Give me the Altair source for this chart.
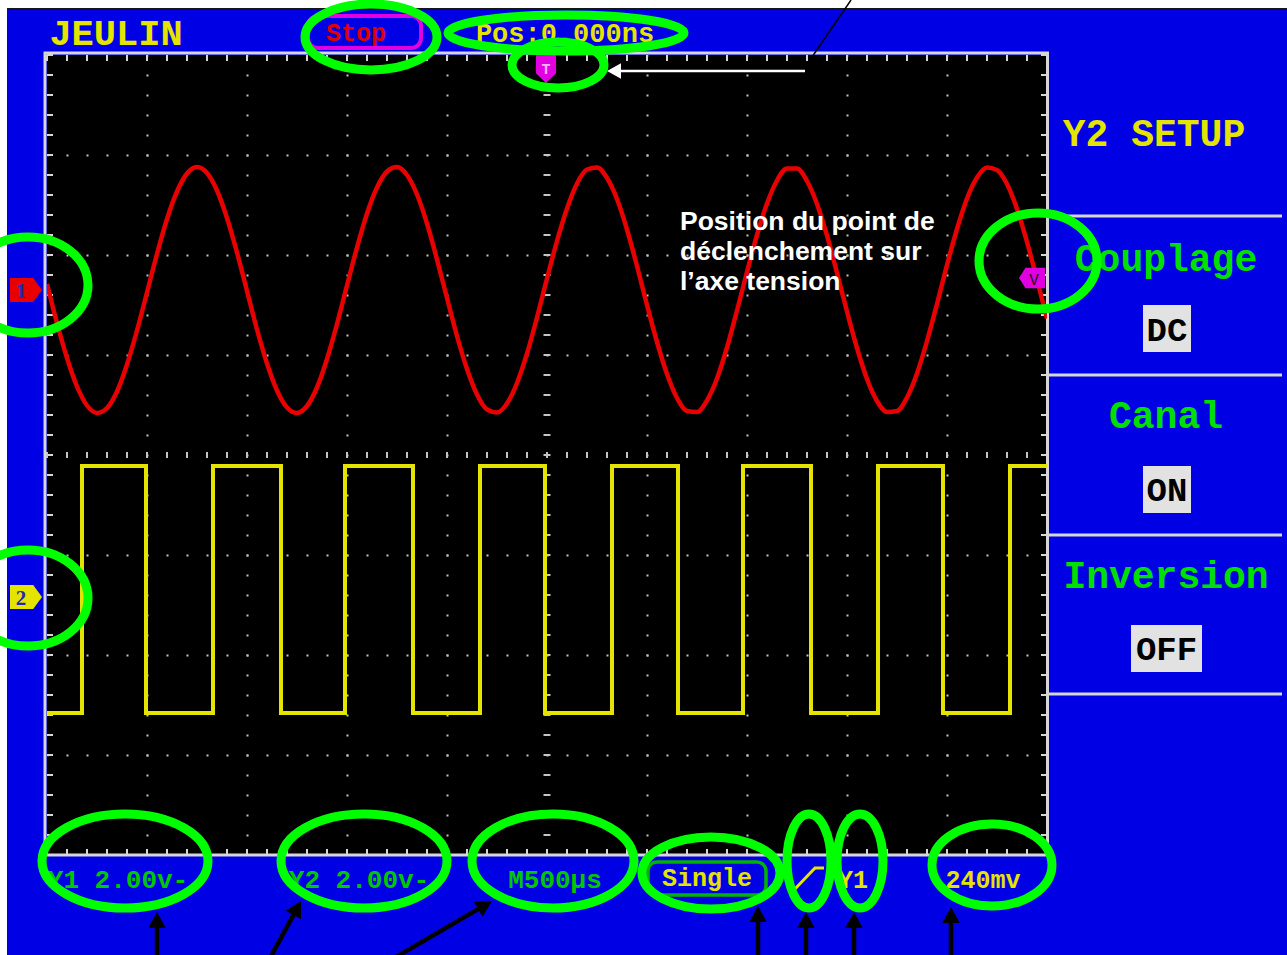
import math
import altair as alt
import pandas as pd

# ---------------------------------------------------------------------------
# Capture settings
# ---------------------------------------------------------------------------
TIME_RANGE = [-2500, 2500]     # µs : 10 divisions of 500 µs (M 500µs)
DIV_RANGE = [-4, 4]            # 8 vertical divisions
VOLTS_PER_DIV = 2.0            # Y1 2.00v / Y2 2.00v
CH1_POSITION = 1.65            # CH1 ground marker, divisions above centre
CH2_POSITION = -1.42           # CH2 ground marker

# CH1 (sine): voltage sampled every 50 µs from -2500 µs
CH1_START = -2500
CH1_STEP = 50
ch1_volts = [
    0.12, -0.66, -1.36, -1.93, -2.31, -2.46, -2.36, -2.03, -1.49, -0.81,
    -0.05, 0.72, 1.42, 1.97, 2.33, 2.46, 2.34, 1.99, 1.44, 0.75,
    -0.02, -0.79, -1.47, -2.01, -2.35, -2.46, -2.32, -1.95, -1.38, -0.68,
    0.09, 0.85, 1.53, 2.05, 2.37, 2.46, 2.30, 1.91, 1.33, 0.61,
    -0.16, -0.92, -1.58, -2.09, -2.39, -2.45, -2.27, -1.86, -1.27, -0.55,
    0.23, 0.98, 1.63, 2.13, 2.41, 2.45, 2.24, 1.82, 1.21, 0.48,
    -0.30, -1.04, -1.68, -2.16, -2.42, -2.44, -2.21, -1.77, -1.15, -0.41,
    0.36, 1.10, 1.73, 2.19, 2.43, 2.43, 2.18, 1.72, 1.09, 0.34,
    -0.43, -1.16, -1.78, -2.22, -2.44, -2.42, -2.15, -1.67, -1.02, -0.28,
    0.50, 1.22, 1.83, 2.25, 2.45, 2.40, 2.12, 1.62, 0.96, 0.21,
    -0.57,
]

# CH2 (square): edge times in µs and the two levels in volts
ch2_rising = [-2325, -1670, -1010, -335, 325, 980, 1655, 2315]
ch2_falling = [-2005, -1330, -670, -10, 655, 1320, 1980]
CH2_HIGH = 2.62
CH2_LOW = -2.32

# Grid lines (divisions / µs) drawn as dotted lines
grid_times = [-2000, -1500, -1000, -500, 500, 1000, 1500, 2000]
grid_divs = [-3, -2, -1, 1, 2, 3]

# Screen texts
TITLE = "JEULIN"
RUN_STATE = "Stop"
TRIG_POS = "Pos:0.000ns"
MENU_TITLE = "Y2 SETUP"
menu_items = ["Couplage", "Canal", "Inversion"]
menu_values = ["DC", "ON", "OFF"]
ch1_scale_txt = "Y1 2.00v-"
ch2_scale_txt = "Y2 2.00v-"
time_scale_txt = "M500µs"
trig_mode_txt = "Single"
trig_src_txt = "Y1"
trig_level_txt = "240mv"
note_lines = ["Position du point de", "déclenchement sur", "l’axe tension"]

# ---------------------------------------------------------------------------
# Styling
# ---------------------------------------------------------------------------
BLUE = "#0000E4"
YELLOW = "#E4E400"
MENU_GREEN = "#00E000"
INFO_GREEN = "#00C800"
RED = "#E80000"
MAGENTA = "#E000E0"
FRAME = "#D6D6D6"
DOT = "#C4C4C4"
RING = "#00FF00"
MONO = "Liberation Mono"
SANS = "Liberation Sans"

VX0, VY0 = 47, 55          # page position of the screen's top-left corner
VIEW_W, VIEW_H = 1000, 800

one = pd.DataFrame({"k": [0]})
XS = alt.Scale(domain=TIME_RANGE, nice=False, zero=False)
YS = alt.Scale(domain=DIV_RANGE, nice=False, zero=False)
XAX = alt.Axis(values=grid_times, grid=True, gridColor=DOT, gridWidth=2,
               gridDash=[2, 18], gridDashOffset=1, labels=False, ticks=False,
               domain=False)
YAX = alt.Axis(values=grid_divs, grid=True, gridColor=DOT, gridWidth=2,
               gridDash=[2, 18], gridDashOffset=1, labels=False, ticks=False,
               domain=False)


def xq(field):
    return alt.X(f"{field}:Q", scale=XS, axis=XAX, title="")


def yq(field):
    return alt.Y(f"{field}:Q", scale=YS, axis=YAX, title="")


def px(x):
    return alt.value(x - VX0)


def py(y):
    return alt.value(y - VY0)


def text(s, x, y, size, color, font=MONO, weight="bold", align="center"):
    return alt.Chart(one).mark_text(
        text=s, font=font, fontSize=size, fontWeight=weight, color=color,
        align=align, baseline="alphabetic"
    ).encode(x=px(x), y=py(y))


def box(x1, y1, x2, y2, fill=None, stroke=None, sw=0, r=0):
    kw = dict(cornerRadius=r)
    if fill is not None:
        kw["fill"] = fill
    else:
        kw["fill"] = "black"
        kw["fillOpacity"] = 0
    if stroke is not None:
        kw["stroke"] = stroke
        kw["strokeWidth"] = sw
    return alt.Chart(one).mark_rect(**kw).encode(
        x=px(x1), x2=px(x2), y=py(y1), y2=py(y2))


def seg(x1, y1, x2, y2, color, w):
    return alt.Chart(one).mark_rule(color=color, strokeWidth=w).encode(
        x=px(x1), y=py(y1), x2=px(x2), y2=py(y2))


def symbol(path, x, y, size, color, filled=True, sw=1, angle=0):
    return alt.Chart(one).mark_point(
        shape=path, size=size, filled=filled, color=color, opacity=1,
        strokeWidth=sw, angle=angle
    ).encode(x=px(x), y=py(y))


def ring(cx, cy, rx, ry, sw=9):
    m = max(rx, ry)
    a, b, k = rx / m, ry / m, 0.5523
    p = (f"M {a:.4f} 0 C {a:.4f} {k*b:.4f} {k*a:.4f} {b:.4f} 0 {b:.4f} "
         f"C {-k*a:.4f} {b:.4f} {-a:.4f} {k*b:.4f} {-a:.4f} 0 "
         f"C {-a:.4f} {-k*b:.4f} {-k*a:.4f} {-b:.4f} 0 {-b:.4f} "
         f"C {k*a:.4f} {-b:.4f} {a:.4f} {-k*b:.4f} {a:.4f} 0 Z")
    return symbol(p, cx, cy, (2 * m) ** 2, RING, filled=False, sw=sw)


HEAD = "M 0 0 L 0.55 1 L -0.55 1 Z"


def arrow(x1, y1, x2, y2, color, w, head):
    dx, dy = x2 - x1, y2 - y1
    n = math.hypot(dx, dy)
    ang = math.degrees(math.atan2(dx, -dy)) % 360
    sx, sy = x2 - dx / n * head * 0.7, y2 - dy / n * head * 0.7
    return [seg(x1, y1, sx, sy, color, w),
            symbol(HEAD, x2, y2, (2 * head) ** 2, color, angle=round(ang, 2))]


layers = []

# outer page: white margins and the dark edge of the screen shot
layers += [
    box(0, 0, 1287, 8, fill="white"),
    box(0, 0, 7, 955, fill="white"),
    box(7, 8, 1287, 10, fill="#151515"),
]

# graticule: edge ticks, centre cross ticks
t_seq = alt.sequence(-2500, 2501, 100, as_="t")
d_seq = alt.sequence(-40, 41, 2, as_="k")
layers += [
    alt.Chart(t_seq).mark_rule(color=FRAME, strokeWidth=2).encode(
        x=xq("t"), y=alt.value(0), y2=alt.value(6)),
    alt.Chart(t_seq).mark_rule(color=FRAME, strokeWidth=2).encode(
        x=xq("t"), y=alt.value(VIEW_H - 6), y2=alt.value(VIEW_H)),
    alt.Chart(d_seq).transform_calculate(d="datum.k / 10").mark_rule(
        color=FRAME, strokeWidth=2).encode(
        y=yq("d"), x=alt.value(0), x2=alt.value(6)),
    alt.Chart(d_seq).transform_calculate(d="datum.k / 10").mark_rule(
        color=FRAME, strokeWidth=2).encode(
        y=yq("d"), x=alt.value(VIEW_W - 6), x2=alt.value(VIEW_W)),
    alt.Chart(d_seq).transform_calculate(d="datum.k / 10", t0="0").mark_tick(
        orient="horizontal", size=7, thickness=2, color=DOT, opacity=1).encode(
        x=xq("t0"), y=yq("d")),
    alt.Chart(t_seq).transform_calculate(d0="0").mark_tick(
        orient="vertical", size=6, thickness=2, color=DOT, opacity=1).encode(
        x=xq("t"), y=yq("d0")),
]

# screen frame
layers.append(box(45, 53, 1047.5, 855, stroke=FRAME, sw=3))

# traces
ch1 = pd.DataFrame({
    "t": [CH1_START + CH1_STEP * i for i in range(len(ch1_volts))],
    "v": ch1_volts,
})
events = sorted([(t, CH2_HIGH) for t in ch2_rising] +
                [(t, CH2_LOW) for t in ch2_falling])
ch2_rows = [(TIME_RANGE[0], CH2_LOW)] + events + [(TIME_RANGE[1], events[-1][1])]
ch2 = pd.DataFrame(ch2_rows, columns=["t", "v"])

layers += [
    alt.Chart(ch2).transform_calculate(
        d=f"datum.v / {VOLTS_PER_DIV} + ({CH2_POSITION})"
    ).mark_line(color=YELLOW, strokeWidth=4, interpolate="step-after",
                clip=True).encode(x=xq("t"), y=yq("d"), order="t:Q"),
    alt.Chart(ch1).transform_calculate(
        d=f"datum.v / {VOLTS_PER_DIV} + ({CH1_POSITION})"
    ).mark_line(color=RED, strokeWidth=4.5, interpolate="monotone",
                clip=True).encode(x=xq("t"), y=yq("d"), order="t:Q"),
]

# channel, trigger-time and trigger-level markers
RIGHT_TAG = "M -1 -0.75 L 0.45 -0.75 L 1 0 L 0.45 0.75 L -1 0.75 Z"
DOWN_TAG = "M -0.72 -1 L 0.72 -1 L 0.72 0.3 L 0 1 L -0.72 0.3 Z"
LEFT_TAG = "M -1 0 L -0.5 -0.78 L 1 -0.78 L 1 0.78 L -0.5 0.78 Z"
layers += [
    symbol(RIGHT_TAG, 26, 290, 32 ** 2, RED),
    text("1", 21, 298, 21, "#2626B8", font="Liberation Serif"),
    symbol(RIGHT_TAG, 26, 597, 32 ** 2, YELLOW),
    text("2", 21, 605, 21, "#2626B8", font="Liberation Serif"),
    symbol(DOWN_TAG, 546, 69, 28 ** 2, MAGENTA),
    text("T", 546, 74, 15, "#FFB0FF"),
    symbol(LEFT_TAG, 1032, 278, 26 ** 2, MAGENTA),
    text("V", 1034, 285, 16, "#2A002A", weight="normal"),
]

# top status line
layers += [
    text(TITLE, 116, 45, 37, YELLOW),
    box(308, 16, 421, 48, stroke=MAGENTA, sw=4, r=10),
    text(RUN_STATE, 356, 41, 25, "#E00000"),
    text(TRIG_POS, 565, 42, 27, YELLOW),
]

# right-hand menu
sep_y = [216, 375, 535, 694]
layers += [seg(1047, y, 1282, y, FRAME, 3) for y in sep_y]
layers.append(text(MENU_TITLE, 1154, 146, 38, YELLOW))
item_y = [271, 428, 588]
value_boxes = [(1143, 305, 1191, 352), (1143, 466, 1191, 513), (1131, 625, 1202, 672)]
value_y = [341, 501, 660]
for name, iy, val, (bx1, by1, bx2, by2), vy in zip(
        menu_items, item_y, menu_values, value_boxes, value_y):
    layers += [
        text(name, 1166, iy, 38, MENU_GREEN),
        box(bx1, by1, bx2, by2, fill="#E2E2E2"),
        text(val, (bx1 + bx2) / 2, vy, 34, "black"),
    ]

# bottom information line
layers += [
    text(ch1_scale_txt, 118, 888, 26, INFO_GREEN),
    text(ch2_scale_txt, 359, 888, 26, INFO_GREEN),
    text(time_scale_txt, 555, 888, 26, INFO_GREEN),
    box(648, 862, 766, 895, stroke="#00B400", sw=3.5, r=9),
    text(trig_mode_txt, 707, 886, 25, YELLOW),
    seg(793, 891, 815, 868, YELLOW, 3),
    seg(814, 868, 824, 868, YELLOW, 3),
    text(trig_src_txt, 853, 888, 25, YELLOW),
    text(trig_level_txt, 983, 888, 25, YELLOW),
]

# explanatory note
for i, line in enumerate(note_lines):
    layers.append(text(line, 680, 230 + 30 * i, 26.5, "white", font=SANS, align="left"))

# highlighted zones
rings = [
    (371, 37, 66, 33), (566, 33, 118, 18), (558, 65, 46, 23),
    (28, 285, 60, 48), (28, 598, 60, 48), (1038, 261, 59, 48),
    (125, 861, 83, 47), (364, 861, 83, 47), (553, 861, 81, 47),
    (711, 873, 69, 36), (809, 861, 22, 47), (860, 861, 23, 47),
    (992, 865, 60, 41),
]
layers += [ring(*r) for r in rings]

# pointers
layers.append(seg(851, 0, 812, 57, "black", 1.5))
layers += arrow(805, 71, 607, 71, "white", 2.5, 14)
for (x1, y1, x2, y2) in [(157, 960, 157, 912), (269, 960, 301, 901),
                         (391, 960, 492, 901), (758, 960, 758, 906),
                         (806, 960, 806, 912), (854, 960, 854, 912),
                         (951, 960, 951, 907)]:
    layers += arrow(x1, y1, x2, y2, "black", 4.5, 16)

chart = alt.layer(*layers).properties(
    width=VIEW_W,
    height=VIEW_H,
    padding={"left": VX0, "top": VY0, "right": 1287 - VX0 - VIEW_W,
             "bottom": 955 - VY0 - VIEW_H},
    autosize=alt.AutoSizeParams(type="none"),
    background=BLUE,
).configure_view(fill="black", strokeWidth=0)

chart.save("out.html", embed_options={"renderer": "svg", "actions": False})
